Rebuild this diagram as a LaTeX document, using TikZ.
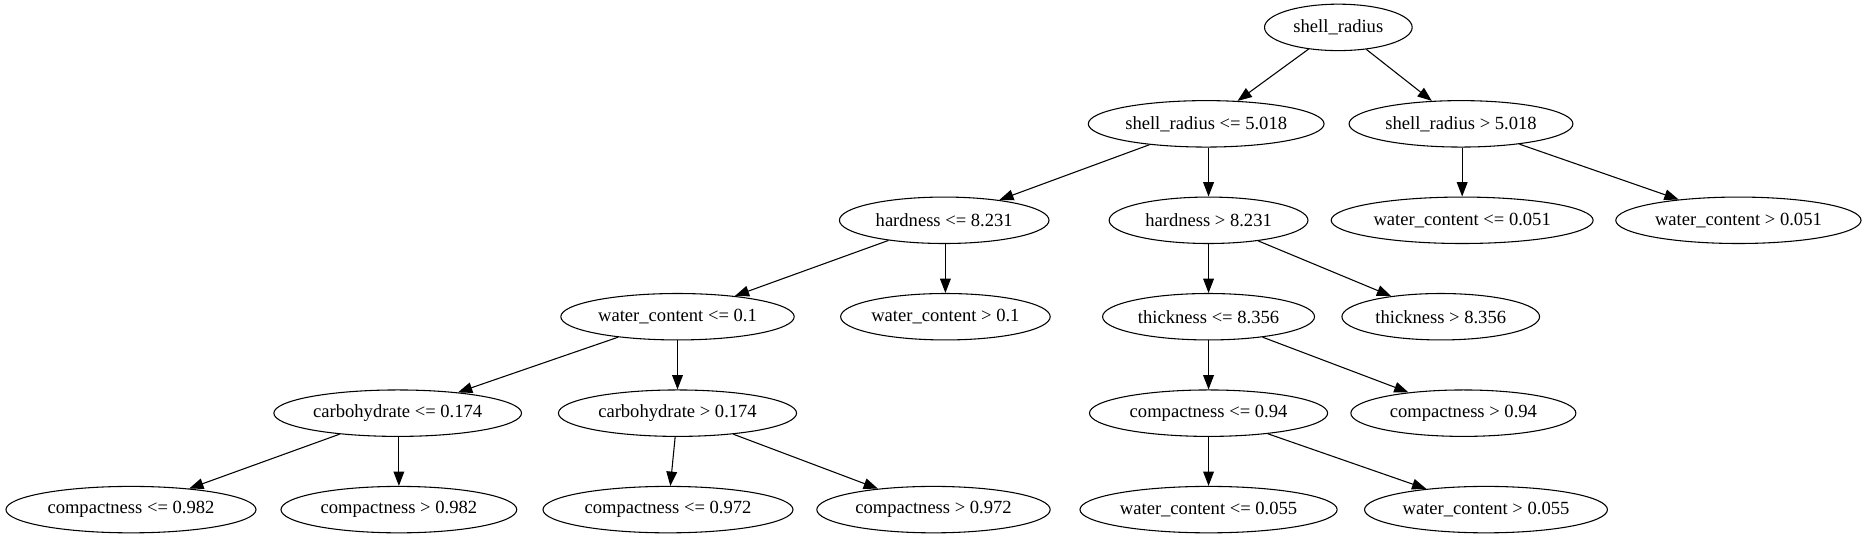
\documentclass[tikz,border=0pt]{standalone}
\usepackage{fontspec}
\setmainfont{Liberation Serif}
\usetikzlibrary{arrows.meta,shapes.geometric}
\begin{document}
\begin{tikzpicture}[x=1pt,y=-1pt,
  split/.style={ellipse,draw,line width=0.9pt,inner sep=0pt,minimum height=39pt,
    font=\fontsize{15.6}{18}\selectfont},
  branch/.style={line width=0.9pt,-{Triangle[length=12pt,width=9pt]}}]
\useasboundingbox (0,0) rectangle (1568,453);
% level 0
\node[split,minimum width=124pt] (sr) at (1124,23) {shell\_radius};
% level 1
\node[split,minimum width=198pt] (srle) at (1013,104) {shell\_radius <= 5.018};
\node[split,minimum width=188pt] (srgt) at (1227,104) {shell\_radius > 5.018};
% level 2
\node[split,minimum width=176pt] (hdle) at (793,185) {hardness <= 8.231};
\node[split,minimum width=167pt] (hdgt) at (1015,185) {hardness > 8.231};
\node[split,minimum width=220pt] (wcsle) at (1228,185) {water\_content <= 0.051};
\node[split,minimum width=206pt] (wcsgt) at (1460,185) {water\_content > 0.051};
% level 3
\node[split,minimum width=196pt] (wcle) at (569,266) {water\_content <= 0.1};
\node[split,minimum width=174pt] (wcgt) at (794,266) {water\_content > 0.1};
\node[split,minimum width=178pt] (thle) at (1015,266) {thickness <= 8.356};
\node[split,minimum width=166pt] (thgt) at (1210,266) {thickness > 8.356};
% level 4
\node[split,minimum width=208pt] (cble) at (334,347) {carbohydrate <= 0.174};
\node[split,minimum width=200pt] (cbgt) at (569,347) {carbohydrate > 0.174};
\node[split,minimum width=200pt] (cple) at (1015,347) {compactness <= 0.94};
\node[split,minimum width=189pt] (cpgt) at (1229,347) {compactness > 0.94};
% level 5
\node[split,minimum width=210pt] (cpale) at (110,428) {compactness <= 0.982};
\node[split,minimum width=198pt] (cpagt) at (335,428) {compactness > 0.982};
\node[split,minimum width=210pt] (cpble) at (561,428) {compactness <= 0.972};
\node[split,minimum width=196pt] (cpbgt) at (784,428) {compactness > 0.972};
\node[split,minimum width=216pt] (wcxle) at (1015,428) {water\_content <= 0.055};
\node[split,minimum width=204pt] (wcxgt) at (1248,428) {water\_content > 0.055};
% edges
\draw[branch] (sr) -- (srle);
\draw[branch] (sr) -- (srgt);
\draw[branch] (srle) -- (hdle);
\draw[branch] (srle.south -| hdgt) -- (hdgt);
\draw[branch] (srgt.south -| wcsle) -- (wcsle);
\draw[branch] (srgt) -- (wcsgt);
\draw[branch] (hdle) -- (wcle);
\draw[branch] (hdle.south -| wcgt) -- (wcgt);
\draw[branch] (hdgt) -- (thle);
\draw[branch] (hdgt) -- (thgt);
\draw[branch] (wcle) -- (cble);
\draw[branch] (wcle) -- (cbgt);
\draw[branch] (thle) -- (cple);
\draw[branch] (thle) -- (cpgt);
\draw[branch] (cble) -- (cpale);
\draw[branch] (cble.south -| cpagt) -- (cpagt);
\draw[branch] (cbgt) -- (cpble);
\draw[branch] (cbgt) -- (cpbgt);
\draw[branch] (cple) -- (wcxle);
\draw[branch] (cple) -- (wcxgt);
\end{tikzpicture}
\end{document}
